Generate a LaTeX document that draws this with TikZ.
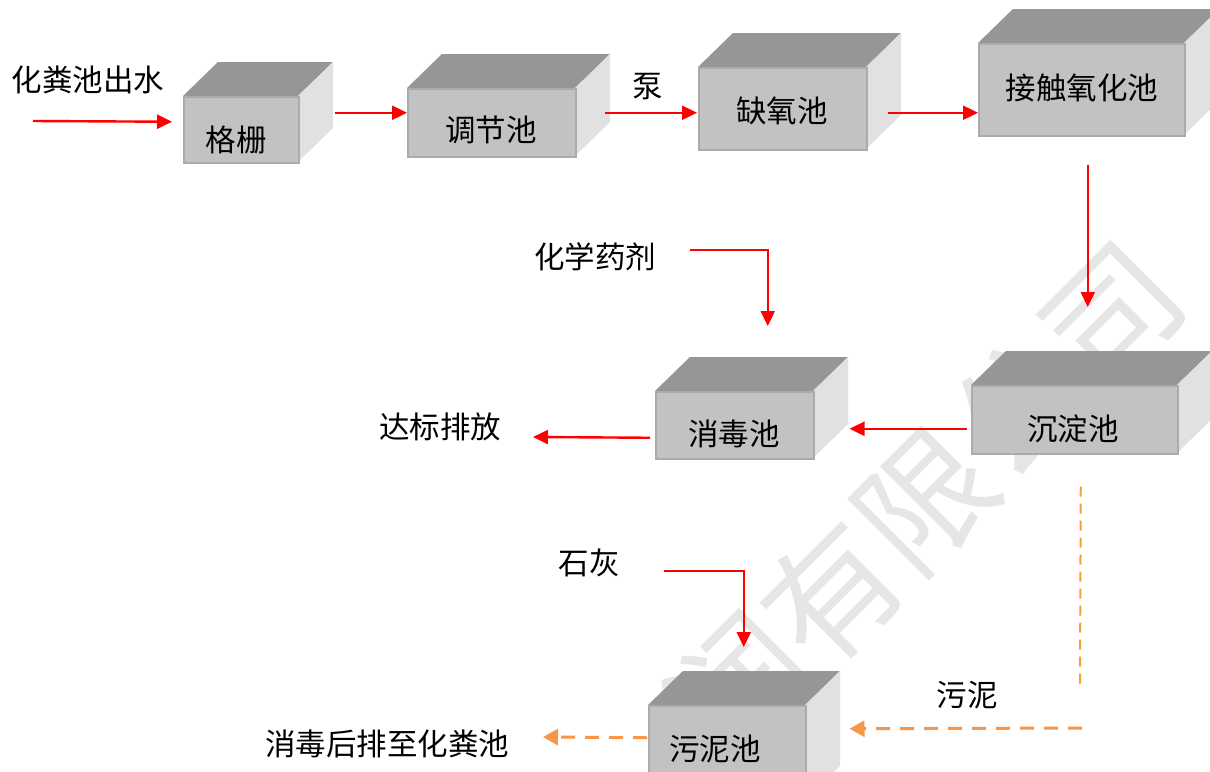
\documentclass[tikz,border=0pt]{standalone}
\usepackage{fontspec}
\setmainfont{Noto Sans CJK SC}
\usetikzlibrary{arrows.meta,calc}
\definecolor{topc}{HTML}{969696}
\definecolor{frontc}{HTML}{C2C2C2}
\definecolor{frontb}{HTML}{ABABAB}
\definecolor{sidec}{HTML}{E1E1E1}
\definecolor{redc}{HTML}{FF0000}
\definecolor{orA}{HTML}{F5A033}
\definecolor{orB}{HTML}{F79646}
\definecolor{wmark}{HTML}{E6E6E6}
\tikzset{
  front/.style={fill=frontc, draw=frontb, line width=1.5pt, inner sep=0pt, anchor=north west},
  lbl/.style={font=\fontsize{30.5}{32}\selectfont, inner sep=0pt, anchor=center},
  redarrow/.style={draw=redc, line width=2.4pt, -{Triangle[length=15pt,width=14pt]}},
  orline/.style={draw=orA, line width=2pt, dash pattern=on 10pt off 7pt},
  orarrow/.style={draw=orB, line width=3pt, dash pattern=on 14pt off 10pt, -{Triangle[length=15pt,width=16pt]}},
}
% name, x1, y1, x2, y2
\newcommand\tankbox[5]{%
  \fill[topc] (#2,#3) -- (#2+35,#3-34) -- (#4+35,#3-34) -- (#4,#3) -- cycle;
  \fill[sidec] (#4,#3) -- (#4+35,#3-34) -- (#4+35,#5-34) -- (#4,#5) -- cycle;
  \node[front, minimum width={(#4-#2)*1pt}, minimum height={(#5-#3)*1pt}] (#1) at (#2,#3) {};
}
\begin{document}
\begin{tikzpicture}[x=1pt,y=-1pt]
\useasboundingbox (0,0) rectangle (1210,771);
\clip (0,0) rectangle (1210,771);
\fill[white] (0,0) rectangle (1210,771);
% watermark
\node[text=wmark, rotate=45, inner sep=0pt, font=\fontsize{132}{132}\selectfont] (wm) at (925,500) {润有限公司};
% boxes
\tankbox{gs}{183}{96}{298}{162}
\tankbox{tj}{407}{88}{575}{156}
\tankbox{qy}{698}{67}{866}{149}
\tankbox{jc}{978}{43}{1184}{135}
\tankbox{xd}{655}{391}{813}{458}
\tankbox{cd}{971}{385}{1177}{453}
\tankbox{wn}{648}{705}{805}{800}
% labels
\node[lbl] (t0) at (88,80) {化粪池出水};
\node[lbl] (t1) at (236,140) {格栅};
\node[lbl] (t2) at (491,130) {调节池};
\node[lbl] (tb) at (648,87) {泵};
\node[lbl] (t3) at (782,111) {缺氧池};
\node[lbl] (t4) at (1082,88) {接触氧化池};
\node[lbl] (hx) at (595,257) {化学药剂};
\node[lbl] (t5) at (734,434) {消毒池};
\node[lbl] (t6) at (1073,429) {沉淀池};
\node[lbl] (db) at (440,427) {达标排放};
\node[lbl] (sh) at (589,563) {石灰};
\node[lbl] (t7) at (715,749) {污泥池};
\node[lbl] (hp) at (387,744) {消毒后排至化粪池};
\node[lbl] (wnl) at (967,695) {污泥};
% free ends
\coordinate (in1) at (33,121);
\coordinate (hxs) at (690,250);
\coordinate (dbe) at (533,437);
\coordinate (shs) at (664,571);
\coordinate (orv) at (1080,687);
\coordinate (orh) at (1082,728);
\coordinate (hpe) at (543,737);
% red arrows
\draw[redarrow] (in1) -- ($(gs.west)+(-11,-8)$);
\draw[redarrow] ($(gs.east)+(35,-17)$) -- ($(tj.west)+(0,-10)$);
\draw[redarrow] ($(tj.east)+(28,-10)$) -- ($(qy.west)+(-1,4)$);
\draw[redarrow] ($(qy.east)+(20,4)$) -- ($(jc.west)+(0,23)$);
\draw[redarrow] ($(jc.south)+(6,28)$) -- ($(cd.north)+(13,-78)$);
\draw[redarrow] (hxs) -| ($(xd.north)+(33,-65)$);
\draw[redarrow] ($(cd.west)+(-4,9)$) -- ($(xd.east)+(35,3.5)$);
\draw[redarrow] ($(xd.west)+(-5,12.5)$) -- (dbe);
\draw[redarrow] (shs) -| ($(wn.north)+(16.5,-58)$);
% orange dashed
\draw[orline] ($(cd.south)+(6,32)$) -- (orv);
\draw[orarrow] (orh) -- ($(wn.east)+(43,-24.5)$);
\draw[orarrow] ($(wn.west)+(-1,-15.5)$) -- (hpe);
\end{tikzpicture}
\end{document}
